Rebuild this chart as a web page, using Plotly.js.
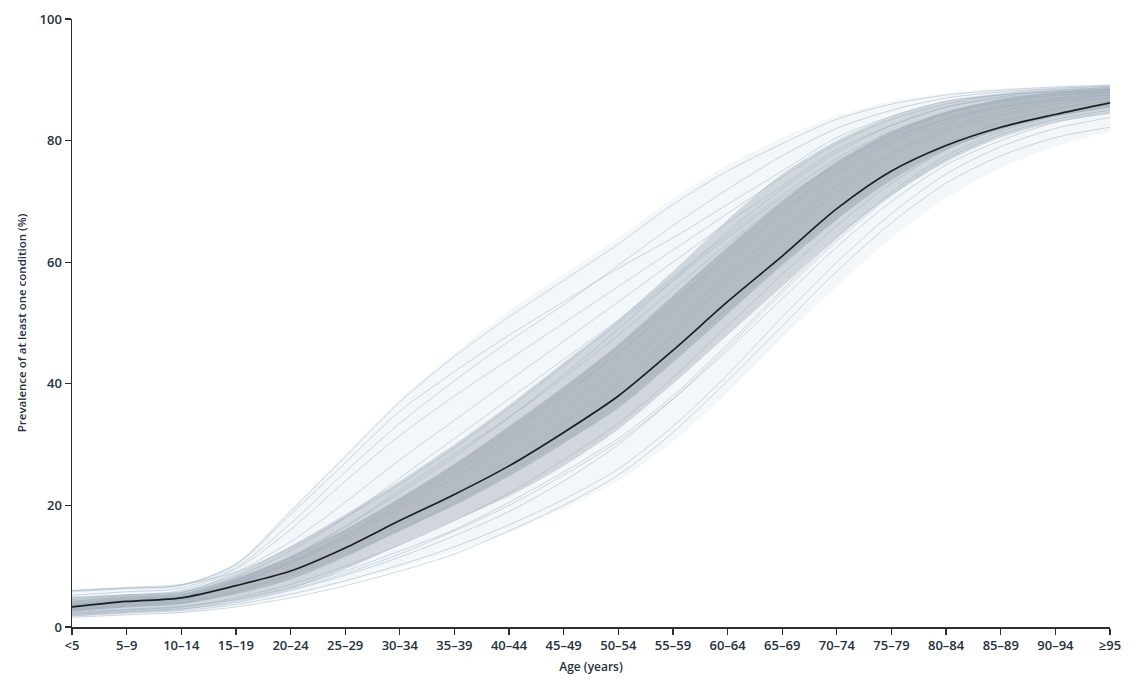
<!DOCTYPE html>
<html>
<head>
<meta charset="utf-8">
<script src="https://cdn.plot.ly/plotly-3.0.1.min.js"></script>
<style>
  html, body { margin: 0; padding: 0; background: #fff; }
  #chart { width: 1133px; height: 679px; }
</style>
</head>
<body>
<div id="chart"></div>
<script>
// Age groups on the x axis
const ageGroups = ['<5','5–9','10–14','15–19','20–24','25–29','30–34','35–39','40–44','45–49',
                   '50–54','55–59','60–64','65–69','70–74','75–79','80–84','85–89','90–94','≥95'];

// Global median prevalence of at least one condition (%)
const medianPrev = [3.3, 4.2, 4.8, 6.8, 9.2, 13.0, 17.5, 21.8, 26.5, 32.0,
                    38.0, 45.5, 53.5, 61.0, 68.8, 75.0, 79.2, 82.2, 84.3, 86.2];

// Envelope of all populations (lowest / highest)
const outerLow  = [1.5, 2.0, 2.3, 3.4, 5.0, 7.3, 9.8, 12.5, 15.5, 19.5,
                   24.0, 30.5, 38.5, 47.5, 56.0, 64.0, 70.5, 75.5, 79.0, 81.5];
const outerHigh = [6.1, 6.6, 7.1, 10.5, 19.5, 28.5, 37.5, 45.0, 52.0, 58.0,
                   64.0, 70.5, 76.0, 80.5, 84.0, 86.5, 87.8, 88.6, 89.0, 89.3];

// Range where most populations cluster
const coreLow  = [2.0, 2.4, 2.9, 4.3, 6.3, 9.5, 13.5, 17.5, 21.5, 26.5,
                  32.5, 40.0, 48.0, 56.0, 64.0, 71.0, 76.5, 80.5, 83.0, 84.5];
const coreHigh = [5.0, 5.4, 5.9, 8.8, 13.3, 18.5, 24.0, 30.0, 36.5, 43.5,
                  50.5, 58.5, 67.0, 74.5, 80.0, 84.0, 86.5, 87.8, 88.6, 89.0];

// Densest part of the cluster
const innerLow  = [2.6, 3.3, 3.8, 5.4, 7.8, 11.5, 15.8, 20.0, 24.8, 30.2,
                   36.0, 43.5, 51.5, 59.5, 67.0, 73.5, 78.5, 81.8, 84.0, 85.5];
const innerHigh = [4.3, 5.0, 5.5, 7.9, 11.5, 16.0, 21.2, 26.8, 33.0, 39.5,
                   46.5, 54.5, 62.5, 70.0, 76.5, 81.5, 84.8, 86.8, 88.0, 88.6];

// Individual population curves
const popA = [5.8, 6.3, 6.8, 10.2, 18.5, 27.0, 35.5, 42.0, 48.0, 53.5, 59.0, 64.0, 69.5, 75.0, 80.5, 84.0, 86.5, 87.5, 88.2, 88.8];
const popB = [4.8, 5.3, 6.0, 9.5, 16.0, 24.0, 31.5, 38.0, 44.0, 50.0, 56.0, 62.0, 68.0, 74.0, 79.5, 83.5, 86.0, 87.5, 88.0, 88.5];
const popC = [4.2, 5.0, 5.6, 9.0, 14.0, 20.5, 27.5, 34.0, 40.5, 47.0, 53.5, 60.0, 66.5, 72.5, 78.5, 82.5, 85.5, 87.0, 87.8, 88.3];
const popD = [3.8, 4.6, 5.3, 8.2, 12.5, 18.0, 24.5, 31.0, 37.5, 44.0, 50.5, 57.5, 64.5, 71.0, 77.0, 81.5, 84.5, 86.5, 87.5, 88.0];
const popE = [3.5, 4.4, 5.0, 7.8, 11.5, 16.5, 22.5, 28.5, 34.5, 41.0, 48.0, 55.5, 63.0, 70.0, 76.5, 81.0, 84.5, 86.3, 87.4, 88.0];
const popF = [6.0, 6.5, 7.0, 9.0, 13.0, 18.0, 23.5, 29.5, 36.0, 43.0, 50.0, 57.0, 64.0, 70.5, 76.0, 80.5, 83.5, 85.5, 86.5, 87.0];
const popG = [2.8, 3.6, 4.3, 7.2, 10.5, 15.0, 20.5, 26.0, 32.0, 38.5, 45.0, 52.5, 60.5, 68.0, 74.5, 79.5, 83.0, 85.5, 86.8, 87.5];
const popH = [2.0, 2.6, 3.0, 4.0, 6.0, 8.5, 11.5, 15.0, 19.0, 24.0, 30.0, 37.5, 46.0, 55.0, 63.5, 71.0, 77.0, 81.0, 83.5, 85.0];
const popI = [1.8, 2.3, 2.7, 3.7, 5.4, 7.6, 10.2, 13.2, 16.8, 21.0, 26.0, 33.0, 41.5, 51.0, 60.0, 68.0, 74.5, 79.0, 82.0, 83.8];
const popJ = [2.3, 2.9, 3.4, 4.5, 6.5, 9.2, 12.5, 16.0, 20.5, 25.5, 31.0, 38.0, 46.5, 55.5, 64.0, 71.5, 77.5, 81.5, 84.0, 85.5];
const popK = [1.6, 2.0, 2.4, 3.3, 4.8, 6.8, 9.2, 12.0, 15.8, 20.0, 25.0, 32.0, 40.5, 49.5, 58.5, 66.5, 73.0, 77.5, 80.5, 82.2];
const popL = [3.0, 3.8, 4.5, 7.0, 10.5, 14.5, 19.5, 24.5, 30.0, 36.0, 42.5, 50.0, 58.0, 65.5, 72.5, 78.0, 82.0, 84.8, 86.5, 87.5];
const popM = [2.5, 3.3, 3.9, 5.8, 8.5, 12.0, 16.0, 20.5, 25.5, 31.0, 37.0, 44.5, 52.5, 60.5, 68.0, 74.5, 79.5, 83.0, 85.2, 86.5];
const popN = [4.5, 5.2, 5.7, 8.0, 11.5, 16.0, 21.0, 26.5, 32.5, 39.0, 46.0, 53.5, 61.0, 68.5, 75.0, 80.0, 83.5, 85.8, 87.0, 87.8];
const popO = [6.0, 6.4, 6.9, 10.4, 19.0, 28.0, 37.0, 44.5, 51.0, 57.0, 63.0, 69.5, 75.0, 79.5, 83.5, 86.0, 87.5, 88.3, 88.8, 89.1];
const popP = [5.2, 5.8, 6.4, 9.8, 17.0, 25.5, 33.5, 40.5, 47.0, 53.0, 59.5, 66.0, 72.0, 77.5, 82.0, 85.0, 87.0, 88.0, 88.6, 89.0];
const popQ = [3.2, 4.0, 4.7, 7.6, 11.5, 16.5, 22.0, 28.0, 34.5, 41.5, 49.0, 57.0, 65.0, 72.0, 78.0, 82.5, 85.5, 87.2, 88.2, 88.7];
const popR = [2.2, 2.8, 3.3, 4.8, 7.0, 10.0, 13.5, 17.5, 22.0, 27.5, 33.5, 41.0, 49.5, 58.0, 66.0, 73.0, 78.5, 82.0, 84.5, 86.0];
const popS = [1.9, 2.4, 2.9, 4.2, 6.2, 8.8, 12.0, 15.8, 20.0, 25.0, 30.5, 37.5, 45.5, 54.0, 62.5, 70.0, 76.0, 80.0, 83.0, 84.5];
const popT = [3.6, 4.3, 5.0, 7.4, 10.8, 15.0, 20.0, 25.5, 31.5, 38.0, 45.0, 53.0, 61.5, 69.5, 76.0, 81.0, 84.5, 86.6, 87.8, 88.4];
const popU = [2.7, 3.4, 4.0, 6.0, 8.8, 12.5, 17.0, 22.0, 27.5, 33.5, 40.0, 48.0, 56.5, 64.5, 71.5, 77.5, 81.5, 84.2, 86.0, 87.0];

const populations = [popA, popB, popC, popD, popE, popF, popG, popH, popI, popJ, popK,
                     popL, popM, popN, popO, popP, popQ, popR, popS, popT, popU];

const smooth = { shape: 'spline', smoothing: 0.8 };

function band(low, high, color) {
  return [
    { x: ageGroups, y: low, type: 'scatter', mode: 'lines',
      line: Object.assign({ width: 0, color: 'rgba(0,0,0,0)' }, smooth),
      hoverinfo: 'skip', showlegend: false },
    { x: ageGroups, y: high, type: 'scatter', mode: 'lines', fill: 'tonexty',
      fillcolor: color,
      line: Object.assign({ width: 0, color: 'rgba(0,0,0,0)' }, smooth),
      hoverinfo: 'skip', showlegend: false }
  ];
}

const traces = [];
traces.push(...band(outerLow, outerHigh, 'rgba(214,225,235,0.28)'));
traces.push(...band(coreLow, coreHigh, 'rgba(165,174,183,0.45)'));
traces.push(...band(innerLow, innerHigh, 'rgba(125,133,141,0.33)'));

populations.forEach(p => {
  traces.push({
    x: ageGroups, y: p, type: 'scatter', mode: 'lines',
    line: Object.assign({ width: 0.9, color: 'rgba(155,176,194,0.55)' }, smooth),
    hoverinfo: 'skip', showlegend: false
  });
});

traces.push({
  x: ageGroups, y: medianPrev, type: 'scatter', mode: 'lines',
  line: Object.assign({ width: 1.7, color: '#1c1f24' }, smooth),
  name: 'Median', showlegend: false
});

const fontFamily = 'Open Sans, Liberation Sans, Arial, sans-serif';
const tickFont = { family: fontFamily, size: 13, weight: 600, color: '#243140' };

const layout = {
  width: 1133, height: 679,
  margin: { l: 72, r: 23, t: 19, b: 52 },
  paper_bgcolor: '#ffffff', plot_bgcolor: '#ffffff',
  showlegend: false,
  xaxis: {
    type: 'category',
    range: [0, 19],
    showgrid: false, zeroline: false,
    showline: true, linecolor: '#2b2f33', linewidth: 1.5,
    ticks: 'outside', ticklen: 6, tickwidth: 1.3, tickcolor: '#2b2f33',
    tickfont: tickFont,
    title: { text: 'Age (years)', font: { family: fontFamily, size: 12, weight: 600, color: '#243140' }, standoff: 9 },
    automargin: false
  },
  yaxis: {
    range: [0, 100],
    tickvals: [0, 20, 40, 60, 80, 100],
    showgrid: false, zeroline: false,
    showline: true, linecolor: '#2b2f33', linewidth: 1.5,
    ticks: 'outside', ticklen: 6, tickwidth: 1.3, tickcolor: '#2b2f33',
    tickfont: tickFont,
    title: { text: 'Prevalence of at least one condition (%)', font: { family: fontFamily, size: 11.5, weight: 600, color: '#243140' }, standoff: 10 },
    automargin: false
  }
};

Plotly.newPlot('chart', traces, layout, { staticPlot: true, displayModeBar: false });
</script>
</body>
</html>
